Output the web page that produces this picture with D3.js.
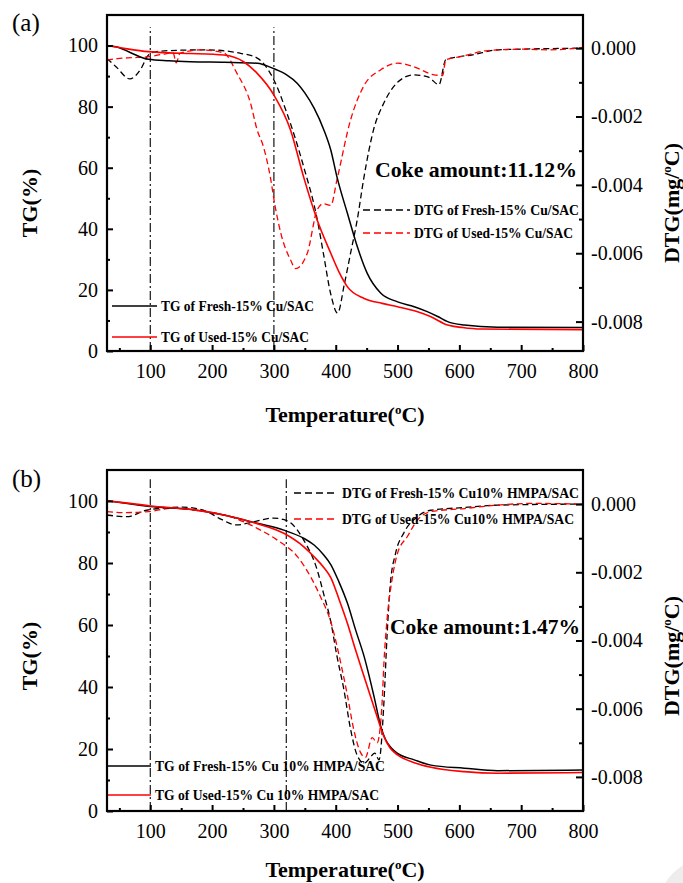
<!DOCTYPE html>
<html>
<head>
<meta charset="utf-8">
<script src="https://cdnjs.cloudflare.com/ajax/libs/d3/7.8.5/d3.min.js"></script>
<style>
  body { margin: 0; background: #fff; }
  svg { display: block; }
  text { font-family: "Liberation Serif", "Times New Roman", serif; }
</style>
</head>
<body>
<svg id="chart" width="683" height="883"></svg>
<script>
// ---- data: [temperature °C, value] ----
// panel (a) 15% Cu/SAC
const tgFreshA = [[30,100],[50,99.3],[70,97.5],[97,95.5],[130,95],[165,94.7],[220,94.5],[273,94.2],[300,92.4],[320,90.5],[338,87.6],[350,84.5],[365,79.5],[381,72.3],[392,65.8],[402,57],[419,45],[435,34.1],[451,25.4],[473,18.9],[500,16.1],[527,14.5],[548,12.9],[565,11.3],[581,9.6],[608,8.5],[662,7.8],[800,7.7]];
const tgUsedA = [[30,100],[60,99],[97,98],[130,97.6],[165,97.4],[219,96.9],[251,94.7],[273,90.9],[300,83.8],[327,72.3],[348,57],[370,42.9],[392,32],[405,26],[419,21],[446,17.2],[475,15.6],[500,14.5],[530,13],[554,11.2],[581,8.5],[605,7.7],[635,7.2],[800,7.0]];
const dtgFreshA = [[30,-0.3],[45,-0.55],[67,-0.9],[85,-0.6],[97,-0.2],[110,-0.1],[150,-0.06],[192,-0.05],[230,-0.1],[246,-0.15],[273,-0.29],[300,-0.93],[321,-1.9],[348,-3.46],[370,-5.0],[380,-6.0],[392,-7.2],[403,-7.75],[414,-6.9],[424,-6.0],[435,-5.0],[445,-3.85],[461,-2.4],[478,-1.6],[500,-1.0],[526,-0.78],[550,-0.85],[567,-1.07],[578,-0.34],[600,-0.25],[620,-0.2],[662,-0.05],[700,-0.03],[800,0]];
const dtgUsedA = [[30,-0.35],[50,-0.3],[70,-0.28],[97,-0.25],[120,-0.18],[137,-0.14],[142,-0.43],[148,-0.15],[181,-0.05],[219,-0.14],[240,-0.73],[262,-1.6],[273,-2.4],[283,-2.88],[294,-3.75],[302,-4.63],[311,-5.4],[327,-6.2],[335,-6.45],[354,-6.0],[370,-4.73],[380,-4.55],[392,-4.6],[402,-3.85],[424,-2.1],[445,-1.12],[473,-0.63],[500,-0.44],[526,-0.54],[559,-0.78],[573,-0.8],[578,-0.34],[604,-0.24],[646,-0.07],[703,-0.03],[745,-0.05],[800,0.02]];
const markersA = [100, 300];

// panel (b) 15% Cu10% HMPA/SAC
const tgFreshB = [[30,100.1],[60,99.3],[100,98.2],[165,97.3],[219,95.5],[273,92.8],[316,90.6],[348,88],[365,85.8],[381,82.5],[392,79.5],[405,74],[419,67],[432,58.5],[446,49.8],[462,36.9],[473,27.2],[481,22.9],[490,20.3],[500,18.6],[527,16.5],[554,14.8],[608,13.8],[662,13],[800,13.2]];
const tgUsedB = [[30,100.1],[60,99.4],[100,98.4],[165,97.3],[219,95.5],[273,92.7],[316,89.6],[348,85.3],[365,82],[381,78.5],[392,75.3],[405,68.5],[419,60.5],[432,52],[446,43.3],[467,30.4],[478,24],[488,20.3],[500,18.1],[527,15.6],[554,14.1],[608,12.7],[662,12.2],[800,12.4]];
const dtgFreshB = [[30,-0.32],[62,-0.37],[94,-0.18],[153,-0.09],[192,-0.22],[215,-0.45],[240,-0.61],[260,-0.55],[278,-0.47],[299,-0.41],[315,-0.45],[327,-0.55],[348,-1.05],[370,-1.93],[380,-2.6],[392,-3.45],[402,-4.46],[413,-5.42],[424,-6.6],[435,-7.38],[446,-7.6],[455,-7.45],[463,-7.3],[470,-7.5],[478,-5.8],[483,-3.87],[488,-2.41],[497,-1.43],[510,-0.85],[532,-0.37],[554,-0.18],[608,-0.1],[662,-0.03],[800,0]];
const dtgUsedB = [[30,-0.22],[56,-0.25],[97,-0.22],[137,-0.12],[181,-0.2],[230,-0.37],[273,-0.71],[305,-1.05],[338,-1.54],[359,-2.12],[375,-2.7],[392,-3.45],[408,-4.65],[419,-5.62],[429,-6.6],[440,-7.28],[448,-7.43],[459,-6.85],[467,-7.0],[475,-5.82],[478,-4.65],[483,-3.39],[491,-2.22],[500,-1.44],[516,-0.95],[532,-0.47],[554,-0.22],[608,-0.13],[662,-0.03],[716,0.02],[800,0]];
const markersB = [100, 320];

// axis ticks
const tempTicks = [100, 200, 300, 400, 500, 600, 700, 800];
const tempMinor = [50, 150, 250, 350, 450, 550, 650, 750];
const tgTicks = [0, 20, 40, 60, 80, 100];
const tgMinor = [10, 30, 50, 70, 90];
const dtgTicks = [0, -0.002, -0.004, -0.006, -0.008];
const dtgMinor = [-0.001, -0.003, -0.005, -0.007];

const svg = d3.select("#chart");
svg.append("rect").attr("width", 683).attr("height", 883).attr("fill", "#fff");

const RED = "#ff0000";

function drawPanel(p) {
  const m = p.box;
  const w = m.width, h = m.height;
  const g = svg.append("g").attr("transform", `translate(${m.left},${m.top})`);

  const x = d3.scaleLinear().domain([30, 800]).range([0, w]);
  const y = d3.scaleLinear().domain([0, 110]).range([h, 0]);
  const y2 = d3.scaleLinear().domain(p.dtgDomain).range([h, 0]);

  // vertical dash-dot markers
  p.markers.forEach(t => {
    g.append("line")
      .attr("x1", x(t)).attr("x2", x(t))
      .attr("y1", y(0)).attr("y2", y(p.markerTop))
      .attr("stroke", "#000").attr("stroke-width", 1.1)
      .attr("stroke-dasharray", "9,3,2,3");
  });

  const tgLine = d3.line().x(d => x(d[0])).y(d => y(d[1])).curve(d3.curveMonotoneX);
  const dtgLine = d3.line().x(d => x(d[0])).y(d => y2(d[1] / 1000)).curve(d3.curveMonotoneX);

  g.append("path").attr("d", dtgLine(p.dtgFresh)).attr("fill", "none")
    .attr("stroke", "#000").attr("stroke-width", 1.3).attr("stroke-dasharray", "6,3.5");
  g.append("path").attr("d", dtgLine(p.dtgUsed)).attr("fill", "none")
    .attr("stroke", RED).attr("stroke-width", 1.3).attr("stroke-dasharray", "6,3.5");
  g.append("path").attr("d", tgLine(p.tgFresh)).attr("fill", "none")
    .attr("stroke", "#000").attr("stroke-width", 1.5);
  g.append("path").attr("d", tgLine(p.tgUsed)).attr("fill", "none")
    .attr("stroke", RED).attr("stroke-width", 1.6);

  // axes, ticks pointing inward
  const fmtDtg = d => (d < 0 ? "-" : "") + Math.abs(d).toFixed(3);

  const left = g.append("g").call(d3.axisLeft(y).tickValues(tgTicks).tickSize(-6).tickPadding(9));
  g.append("g").call(d3.axisLeft(y).tickValues(tgMinor).tickSize(-3).tickFormat(""));
  const bottom = g.append("g").attr("transform", `translate(0,${h})`)
    .call(d3.axisBottom(x).tickValues(tempTicks).tickSize(-6).tickPadding(13));
  g.append("g").attr("transform", `translate(0,${h})`)
    .call(d3.axisBottom(x).tickValues(tempMinor).tickSize(-3).tickFormat(""));
  const right = g.append("g").attr("transform", `translate(${w},0)`)
    .call(d3.axisRight(y2).tickValues(dtgTicks).tickSize(-7).tickPadding(8).tickFormat(fmtDtg));
  g.append("g").attr("transform", `translate(${w},0)`)
    .call(d3.axisRight(y2).tickValues(dtgMinor).tickSize(-4).tickFormat(""));

  g.selectAll(".domain").remove();
  g.selectAll(".tick line").attr("stroke", "#000").attr("stroke-width", 2);
  [left, bottom, right].forEach(a => a.selectAll("text")
    .style("font-family", "'Liberation Serif', serif").style("font-size", "20px").attr("fill", "#000"));

  g.append("rect").attr("width", w).attr("height", h)
    .attr("fill", "none").attr("stroke", "#000").attr("stroke-width", 2.2);

  // legends
  const legend = (item) => {
    g.append("line")
      .attr("x1", item.x1).attr("x2", item.x2).attr("y1", item.y).attr("y2", item.y)
      .attr("stroke", item.color).attr("stroke-width", item.dashed ? 1.3 : 1.6)
      .attr("stroke-dasharray", item.dashed ? "7,4" : null);
    g.append("text")
      .attr("x", item.x2 + 4).attr("y", item.y + 5)
      .attr("font-size", 14.5).attr("font-weight", "bold")
      .attr("textLength", item.len).attr("lengthAdjust", "spacingAndGlyphs")
      .text(item.label);
  };
  p.legend.forEach(legend);

  g.append("text")
    .attr("x", p.coke.x).attr("y", p.coke.y)
    .attr("font-size", 21).attr("font-weight", "bold")
    .attr("textLength", p.coke.len).attr("lengthAdjust", "spacingAndGlyphs")
    .text(p.coke.text);

  // titles
  svg.append("text").attr("x", 12).attr("y", p.tagY)
    .attr("font-size", 25).text(p.tag);

  svg.append("text")
    .attr("transform", `translate(37,${m.top + p.tgTitleY}) rotate(-90)`)
    .attr("text-anchor", "middle").attr("font-size", 22).attr("font-weight", "bold")
    .text("TG(%)");

  const dtgTitle = svg.append("text")
    .attr("transform", `translate(679,${m.top + p.tgTitleY}) rotate(-90)`)
    .attr("text-anchor", "middle").attr("font-size", 22).attr("font-weight", "bold");
  dtgTitle.append("tspan").text("DTG(mg/");
  dtgTitle.append("tspan").attr("font-size", 13).attr("dy", -8).text("o");
  dtgTitle.append("tspan").attr("dy", 8).text("C)");

  const xTitle = svg.append("text")
    .attr("x", 345).attr("y", p.xTitleY)
    .attr("text-anchor", "middle").attr("font-size", 22).attr("font-weight", "bold");
  xTitle.append("tspan").text("Temperature(");
  xTitle.append("tspan").attr("font-size", 13).attr("dy", -8).text("o");
  xTitle.append("tspan").attr("dy", 8).text("C)");
}

drawPanel({
  box: { left: 107, top: 15, width: 476, height: 336 },
  dtgDomain: [-0.00886, 0.00097],
  markers: markersA, markerTop: 106,
  tgFresh: tgFreshA, tgUsed: tgUsedA, dtgFresh: dtgFreshA, dtgUsed: dtgUsedA,
  legend: [
    { x1: 256, x2: 303, y: 195, color: "#000", dashed: true, label: "DTG of Fresh-15% Cu/SAC", len: 165 },
    { x1: 256, x2: 303, y: 218, color: RED, dashed: true, label: "DTG of Used-15% Cu/SAC", len: 159 },
    { x1: 5, x2: 50, y: 291, color: "#000", dashed: false, label: "TG of Fresh-15% Cu/SAC", len: 153 },
    { x1: 5, x2: 50, y: 322, color: RED, dashed: false, label: "TG of Used-15% Cu/SAC", len: 148 }
  ],
  coke: { x: 268, y: 162, len: 202, text: "Coke amount:11.12%" },
  tag: "(a)", tagY: 31, tgTitleY: 188, xTitleY: 422
});

drawPanel({
  box: { left: 107, top: 470, width: 476, height: 341 },
  dtgDomain: [-0.009, 0.001],
  markers: markersB, markerTop: 107,
  tgFresh: tgFreshB, tgUsed: tgUsedB, dtgFresh: dtgFreshB, dtgUsed: dtgUsedB,
  legend: [
    { x1: 187, x2: 231, y: 23, color: "#000", dashed: true, label: "DTG of Fresh-15% Cu10% HMPA/SAC", len: 237 },
    { x1: 187, x2: 231, y: 49, color: RED, dashed: true, label: "DTG of Used-15% Cu10% HMPA/SAC", len: 232 },
    { x1: 1, x2: 44, y: 296, color: "#000", dashed: false, label: "TG of Fresh-15% Cu 10% HMPA/SAC", len: 230 },
    { x1: 1, x2: 44, y: 325, color: RED, dashed: false, label: "TG of Used-15% Cu 10% HMPA/SAC", len: 224 }
  ],
  coke: { x: 283, y: 164, len: 190, text: "Coke amount:1.47%" },
  tag: "(b)", tagY: 487, tgTitleY: 186, xTitleY: 877
});

// page-curl shading in the bottom right corner
svg.append("circle").attr("cx", 712).attr("cy", 912).attr("r", 55).attr("fill", "#ededed");
</script>
</body>
</html>
